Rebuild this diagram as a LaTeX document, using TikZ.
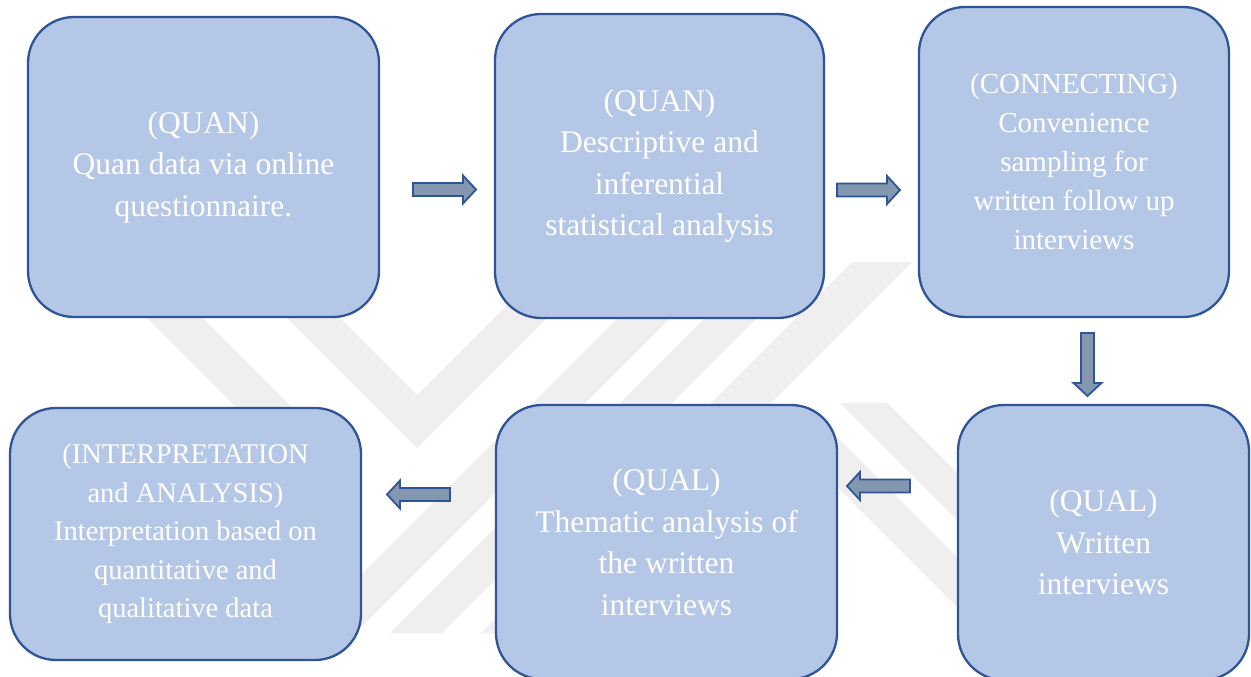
\documentclass[tikz,border=0pt]{standalone}
\usepackage{fontspec}
\setmainfont{Liberation Serif}
\definecolor{boxfill}{HTML}{B4C7E7}
\definecolor{boxline}{HTML}{2F5597}
\definecolor{arrfill}{HTML}{8497B0}
\definecolor{wmark}{HTML}{EFEFEF}
\tikzset{
  stepbox/.style={draw=boxline, fill=boxfill, line width=2.3pt, rounded corners=46pt,
    align=center, text=white, inner sep=0pt},
  bigtext/.style={font=\fontsize{31.5}{41.5}\selectfont},
  midtext/.style={font=\fontsize{29}{39}\selectfont},
  smalltext/.style={font=\fontsize{28.5}{38.5}\selectfont},
  barrowstyle/.style={draw=boxline, fill=arrfill, line width=1.8pt, line join=miter},
  pics/blockarrow/.style={code={
    \draw[barrowstyle] (0,-6.5) -- (50,-6.5) -- (50,-14) -- (63,0) -- (50,14) -- (50,6.5) -- (0,6.5) -- cycle;}}
}
\begin{document}
\begin{tikzpicture}[x=1pt,y=-1pt]
\useasboundingbox (0,0) rectangle (1251,677);
\fill[white] (0,0) rectangle (1251,677);
% watermark
\begin{scope}
\clip (0,255) rectangle (1251,633);
\fill[wmark] (84,255) -- (140,255) -- (320,435) -- (264,435) -- cycle;
\fill[wmark] (224,255) -- (277,255) -- (417,395) -- (557,255) -- (610,255) -- (417,448) -- cycle;
\fill[wmark] (681,255) -- (733,255) -- (355,633) -- (303,633) -- cycle;
\fill[wmark] (768,255) -- (820,255) -- (442,633) -- (390,633) -- cycle;
\fill[wmark] (852,262) -- (912,262) -- (541,633) -- (481,633) -- cycle;
\fill[wmark] (840,403) -- (887,403) -- (1117,633) -- (1070,633) -- cycle;
\fill[wmark] (760,410) -- (810,410) -- (1033,633) -- (983,633) -- cycle;
\end{scope}
% boxes
\node[stepbox, bigtext, minimum width=351pt, minimum height=300pt] (b1) at (203.5,167)
  {(QUAN)\\Quan data via online\\questionnaire.};
\node[stepbox, bigtext, minimum width=329pt, minimum height=304pt] (b2) at (659.5,166)
  {(QUAN)\\Descriptive and\\inferential\\statistical analysis};
\node[stepbox, midtext, minimum width=310pt, minimum height=310pt] (b3) at (1074,162)
  {(CONNECTING)\\Convenience\\sampling for\\written follow up\\interviews};
\node[stepbox, bigtext, minimum width=291pt, minimum height=275pt] (b4) at (1103.5,542.5)
  {(QUAL)\\Written\\interviews};
\node[stepbox, bigtext, minimum width=341pt, minimum height=274pt] (b5) at (666.5,542)
  {(QUAL)\\Thematic analysis of\\the written\\interviews};
\node[stepbox, smalltext, minimum width=351pt, minimum height=252pt] (b6) at (185.5,534)
  {(INTERPRETATION\\and ANALYSIS)\\Interpretation based on\\quantitative and\\qualitative data};
% block arrows
\coordinate (a1) at (413,189.5);
\coordinate (a2) at (837,190);
\coordinate (a3) at (1087.5,333);
\coordinate (a4) at (910,486);
\coordinate (a5) at (450,494.5);
\pic at (a1) {blockarrow};
\pic at (a2) {blockarrow};
\pic[rotate=-90] at (a3) {blockarrow};
\pic[rotate=180] at (a4) {blockarrow};
\pic[rotate=180] at (a5) {blockarrow};
\end{tikzpicture}
\end{document}
